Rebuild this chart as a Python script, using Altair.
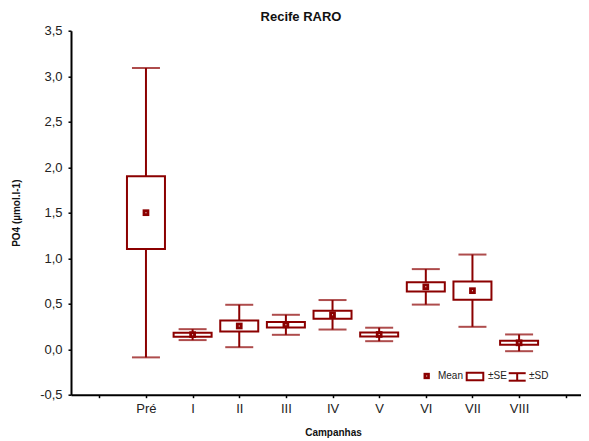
import altair as alt
import pandas as pd

campanhas = ["Pré", "I", "II", "III", "IV", "V", "VI", "VII", "VIII"]
means = [1.50, 0.16, 0.255, 0.268, 0.378, 0.162, 0.685, 0.643, 0.070]
se = [0.40, 0.022, 0.06, 0.03, 0.044, 0.022, 0.051, 0.10, 0.022]
sd = [1.59, 0.06, 0.233, 0.11, 0.162, 0.074, 0.195, 0.397, 0.092]

axis_labels = [""] + campanhas + [""]
y_ticks = [-0.5, 0.0, 0.5, 1.0, 1.5, 2.0, 2.5, 3.0, 3.5]

RED = "#8b0000"
FONT = "Liberation Sans"

df = pd.DataFrame({
    "campanha": campanhas,
    "pos": list(range(1, len(campanhas) + 1)),
    "mean": means,
    "se_lo": [m - s for m, s in zip(means, se)],
    "se_hi": [m + s for m, s in zip(means, se)],
    "sd_lo": [m - s for m, s in zip(means, sd)],
    "sd_hi": [m + s for m, s in zip(means, sd)],
})

label_js = "[" + ",".join("'" + s + "'" for s in axis_labels) + "]"

x_enc = alt.X(
    "pos:Q",
    scale=alt.Scale(domain=[-0.5, 10.22], nice=False, zero=False),
    axis=alt.Axis(
        title="Campanhas", values=list(range(len(axis_labels))),
        labelExpr=label_js + "[datum.value]",
        grid=False, domain=True, domainColor="black", domainWidth=2,
        tickSize=3, tickColor="black", tickWidth=1.5,
        labelPadding=5, labelFontSize=13, labelFont=FONT, labelColor="#222",
        titleFont=FONT, titleFontSize=10, titleFontWeight="bold",
        titleColor="#111", titleX=262, titleY=37.5, titleBaseline="middle",
        titleAlign="center",
    ),
)

y_scale = alt.Scale(domain=[-0.5, 3.5], nice=False, zero=False)
y_axis = alt.Axis(
    title="PO4 (µmol.l-1)", values=y_ticks,
    labelExpr="replace(replace(format(datum.value, '.1f'), '.', ','), '\u2212', '-')",
    grid=False, domain=True, domainColor="black", domainWidth=2,
    tickSize=3, tickColor="black", tickWidth=1.5,
    labelPadding=6, labelFontSize=13, labelFont=FONT, labelColor="#222",
    titleFont=FONT, titleFontSize=10, titleFontWeight="bold", titleColor="#111",
    titleX=-55, titleY=182, titleAngle=270, titleBaseline="middle",
    titleAlign="center",
)

base = alt.Chart(df)

whisk_hi = base.mark_rule(color=RED, strokeWidth=2).encode(
    x=x_enc, y=alt.Y("se_hi:Q", scale=y_scale, axis=y_axis), y2="sd_hi:Q")
whisk_lo = base.mark_rule(color=RED, strokeWidth=2).encode(
    x="pos:Q", y="sd_lo:Q", y2="se_lo:Q")
boxes = base.mark_bar(width=38, fill="white", stroke=RED, strokeWidth=2).encode(
    x="pos:Q", y="se_lo:Q", y2="se_hi:Q")
cap_hi = base.mark_tick(orient="horizontal", size=28, thickness=2, color=RED).encode(
    x="pos:Q", y="sd_hi:Q")
cap_lo = base.mark_tick(orient="horizontal", size=28, thickness=2, color=RED).encode(
    x="pos:Q", y="sd_lo:Q")
mean_pts = base.mark_square(size=45, color=RED, opacity=1).encode(
    x="pos:Q", y="mean:Q")
mean_dot = base.mark_square(size=1, color="white", opacity=1).encode(
    x="pos:Q", y="mean:Q")

one = alt.Chart(pd.DataFrame({"k": [0]}))
leg_mean = one.mark_square(size=40, color=RED, opacity=1).encode(
    x=alt.value(355.7), y=alt.value(345.3))
leg_mean_dot = one.mark_square(size=1, color="white", opacity=1).encode(
    x=alt.value(355.7), y=alt.value(345.3))
leg_box = one.mark_rect(fill="white", stroke=RED, strokeWidth=2).encode(
    x=alt.value(395.7), x2=alt.value(412.3), y=alt.value(342), y2=alt.value(349.5))
leg_sd_v = one.mark_rule(color=RED, strokeWidth=2).encode(
    x=alt.value(446.2), y=alt.value(342.5), y2=alt.value(350))
leg_sd_t = one.mark_rule(color=RED, strokeWidth=2).encode(
    x=alt.value(437.7), x2=alt.value(454.7), y=alt.value(342.5))
leg_sd_b = one.mark_rule(color=RED, strokeWidth=2).encode(
    x=alt.value(437.7), x2=alt.value(454.7), y=alt.value(350))
txt = dict(font=FONT, fontSize=10, color="#222", align="left", baseline="middle")
leg_t1 = one.mark_text(text="Mean", **txt).encode(x=alt.value(367), y=alt.value(345.5))
leg_t2 = one.mark_text(text="±SE", **txt).encode(x=alt.value(417), y=alt.value(345.5))
leg_t3 = one.mark_text(text="±SD", **txt).encode(x=alt.value(458), y=alt.value(345.5))

chart = alt.layer(
    whisk_hi, whisk_lo, boxes, cap_hi, cap_lo, mean_pts, mean_dot,
    leg_mean, leg_mean_dot, leg_box, leg_sd_v, leg_sd_t, leg_sd_b,
    leg_t1, leg_t2, leg_t3,
).properties(
    width=510, height=364,
    title=alt.TitleParams("Recife RARO", font=FONT, fontSize=13, fontWeight="bold",
                          color="#111", anchor="middle", dx=-25, offset=1),
    autosize="none",
    padding={"left": 63, "top": 22.7, "right": 0, "bottom": 46},
).configure(background="white").configure_view(stroke=None)

chart.save("out.html", embed_options={"renderer": "svg", "actions": False})
